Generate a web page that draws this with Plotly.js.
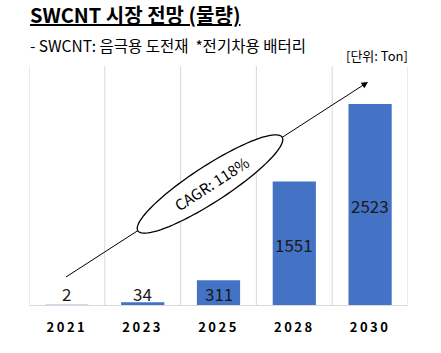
<!DOCTYPE html>
<html><head><meta charset="utf-8">
<script src="https://cdn.plot.ly/plotly-3.0.1.min.js"></script>
<style>html,body{margin:0;padding:0;background:#fff;}#chart{width:441px;height:353px;}</style>
</head><body><div id="chart"></div>
<script>
const years = ['2021', '2023', '2025', '2028', '2030'];
const volumes = [2, 34, 311, 1551, 2523];
const titleText = 'SWCNT 시장 전망 (물량)';
const subtitleText = '- SWCNT: 음극용 도전재  *전기차용 배터리';
const unitText = '[단위: Ton]';
const cagrText = 'CAGR: 118%';

const FONT = '"Noto Sans CJK KR", "Noto Sans", sans-serif';
const W = 441, H = 353, M = {l: 29, r: 33, t: 66, b: 48};
const PW = W - M.l - M.r, PH = H - M.t - M.b;
const YMAX = 3000;
function px(x) { return (x - M.l) / PW; }
function py(y) { return (H - M.b - y) / PH; }

// ellipse around CAGR label (decoration, pixel geometry)
const cx = 210, cy = 184, ea = 86, eb = 18, ang = -33 * Math.PI / 180;
let path = '';
for (let k = 0; k <= 90; k++) {
  const t = k / 90 * 2 * Math.PI;
  const ex = ea * Math.cos(t), ey = eb * Math.sin(t);
  const x = cx + ex * Math.cos(ang) - ey * Math.sin(ang);
  const y = cy + ex * Math.sin(ang) + ey * Math.cos(ang);
  path += (k === 0 ? 'M' : 'L') + px(x).toFixed(5) + ',' + py(y).toFixed(5) + ' ';
}
path += 'Z';

const shapes = [];
for (let i = 0; i <= years.length; i++) {
  shapes.push({type: 'line', xref: 'x', yref: 'paper', x0: i - 0.5, x1: i - 0.5, y0: 0, y1: 1,
    line: {color: '#d9d9d9', width: 1}, layer: 'below'});
}
shapes.push({type: 'line', xref: 'paper', yref: 'paper', x0: px(66), y0: py(277), x1: px(340), y1: py(100),
  line: {color: '#000', width: 1}, layer: 'above'});
shapes.push({type: 'path', xref: 'paper', yref: 'paper', path: path,
  fillcolor: '#fff', line: {color: '#000', width: 1.3}, layer: 'above'});

const pxPerUnit = PH / YMAX;

const trace = {
  type: 'bar', x: years, y: volumes,
  marker: {color: '#4472C4'}, width: 0.57,
  cliponaxis: false, hoverinfo: 'skip'
};

// value labels: centred in the bar, or sitting on the baseline for short bars
const labelAnns = years.map((yr, i) => {
  const v = volumes[i];
  const tall = v * pxPerUnit >= 20;
  return {xref: 'x', yref: 'y', x: i, y: tall ? v / 2 : 0,
    yanchor: tall ? 'middle' : 'bottom', yshift: tall ? -1 : -3,
    text: String(v), showarrow: false,
    font: {family: FONT, size: 17, color: '#1a1a1a'}};
});

const layout = {
  width: W, height: H, margin: M,
  paper_bgcolor: '#fff', plot_bgcolor: '#fff',
  showlegend: false,
  font: {family: FONT, color: '#000'},
  title: {text: '<b><u>' + titleText + '</u></b>', x: 30 / W, xanchor: 'left', xref: 'container',
    y: 1 - 16 / H, yanchor: 'middle', yref: 'container', font: {family: FONT, size: 20, color: '#000'}},
  xaxis: {type: 'category', tickvals: years,
    ticktext: years.map(s => '<span style="letter-spacing:2.5px">' + s + '</span>'),
    tickfont: {family: FONT, size: 13, color: '#000', weight: 700},
    showgrid: false, showline: true, linecolor: '#d9d9d9', linewidth: 1,
    ticks: '', ticklabelstandoff: 10, range: [-0.5, years.length - 0.5], fixedrange: true},
  yaxis: {range: [0, YMAX], visible: false, showgrid: false, zeroline: false, fixedrange: true},
  shapes: shapes,
  annotations: labelAnns.concat([
    {xref: 'paper', yref: 'paper', x: px(28), y: py(45), xanchor: 'left', yanchor: 'middle',
      text: subtitleText, showarrow: false, font: {family: FONT, size: 15.5, color: '#000'}},
    {xref: 'paper', yref: 'paper', x: px(410), y: py(55), xanchor: 'right', yanchor: 'middle',
      text: unitText, showarrow: false, font: {family: FONT, size: 13, color: '#000'}},
    {xref: 'paper', yref: 'paper', x: px(211), y: py(183), xanchor: 'center', yanchor: 'middle',
      text: cagrText, textangle: -33, showarrow: false, font: {family: FONT, size: 15, color: '#000'}},
    {xref: 'paper', yref: 'paper', x: px(368), y: py(82), text: '', showarrow: true,
      ax: -30, ay: 19.4, arrowhead: 2, arrowsize: 1.3, arrowwidth: 1, arrowcolor: '#000', standoff: 0}
  ])
};

Plotly.newPlot('chart', [trace], layout, {displayModeBar: false, staticPlot: true});
</script>
</body></html>
